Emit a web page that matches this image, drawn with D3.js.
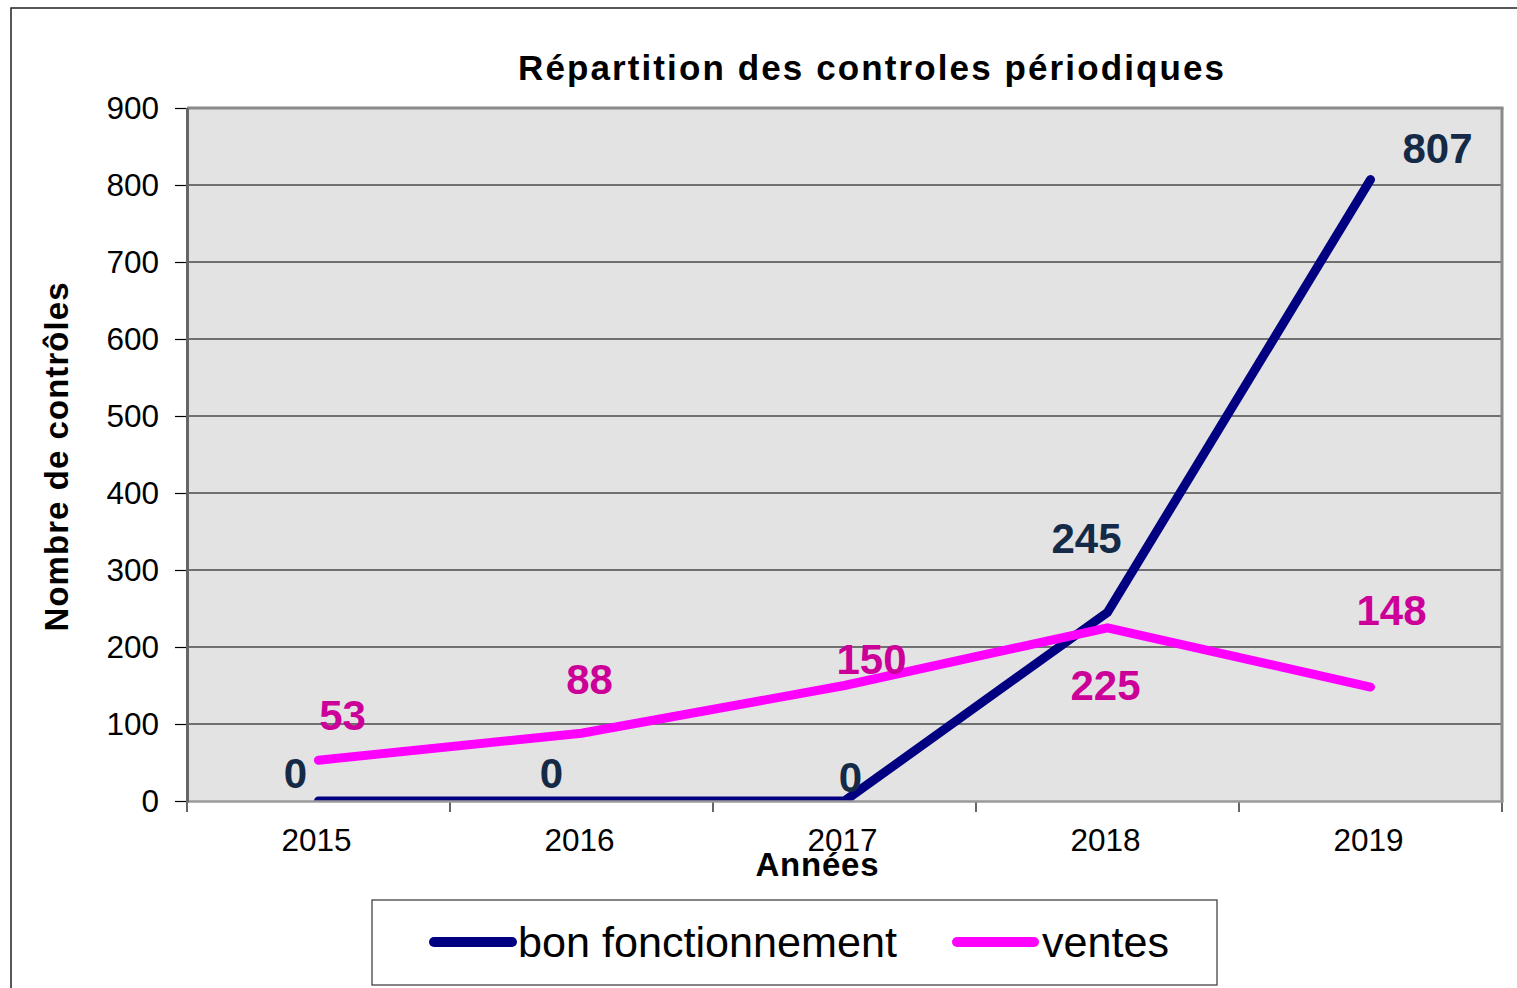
<!DOCTYPE html>
<html>
<head>
<meta charset="utf-8">
<script src="https://cdn.jsdelivr.net/npm/d3@7"></script>
<style>
  html, body { margin: 0; padding: 0; background: #fff; }
  svg { display: block; font-family: "Liberation Sans", Arial, sans-serif; }
</style>
</head>
<body>
<svg id="chart" width="1517" height="988"></svg>
<script>
// Chart data
const years = ["2015", "2016", "2017", "2018", "2019"];
const bonFonctionnement = [0, 0, 0, 245, 807];
const ventes = [53, 88, 150, 225, 148];
const yTicks = [0, 100, 200, 300, 400, 500, 600, 700, 800, 900];
const seriesNames = ["bon fonctionnement", "ventes"];

// Value-label placement relative to each point (dx, dy of baseline)
const labelOffsetsBon = [[-23, -13], [-30, -13], [6, -9], [-21, -59], [67, -17]];
const labelOffsetsVentes = [[24, -30], [8, -39], [27, -12], [-2, 72], [21, -62]];

const W = 1517, H = 988;
const plot = { left: 187, right: 1502, top: 108, bottom: 801 };

const svg = d3.select("#chart");

// Outer frame (extends past the right and bottom edges)
svg.append("rect")
  .attr("x", 11).attr("y", 8)
  .attr("width", W).attr("height", H)
  .attr("fill", "#fff").attr("stroke", "#222").attr("stroke-width", 1.5);

const x = d3.scaleBand().domain(years).range([plot.left, plot.right]).padding(0);
const y = d3.scaleLinear().domain([0, 900]).range([plot.bottom, plot.top]);
const cx = d => x(d) + x.bandwidth() / 2;

// Plot background
svg.append("rect")
  .attr("x", plot.left).attr("y", plot.top)
  .attr("width", plot.right - plot.left).attr("height", plot.bottom - plot.top)
  .attr("fill", "#e3e3e3");

// Horizontal gridlines
svg.append("g")
  .selectAll("line")
  .data(yTicks.filter(t => t > 0 && t < 900))
  .join("line")
  .attr("x1", plot.left).attr("x2", plot.right)
  .attr("y1", d => y(d)).attr("y2", d => y(d))
  .attr("stroke", "#4a4a4a").attr("stroke-width", 1.3);

// Y axis
const yAxis = d3.axisLeft(y).tickValues(yTicks).tickSize(12).tickPadding(16).tickFormat(d3.format("d"));
const gy = svg.append("g").attr("transform", `translate(${plot.left},0)`).call(yAxis);
gy.select(".domain").remove();
gy.selectAll(".tick line").attr("stroke", "#000").attr("stroke-width", 1.2);
gy.selectAll(".tick text")
  .attr("font-size", 31.5).attr("fill", "#000")
  .attr("font-family", "Liberation Sans, Arial, sans-serif");

// X axis: ticks at category boundaries, labels at category centres
const boundaries = years.map(d => x(d)).concat([plot.right]);
svg.append("g")
  .selectAll("line")
  .data(boundaries)
  .join("line")
  .attr("x1", d => d).attr("x2", d => d)
  .attr("y1", plot.bottom).attr("y2", plot.bottom + 11)
  .attr("stroke", "#000").attr("stroke-width", 1.2);

svg.append("g")
  .selectAll("text")
  .data(years)
  .join("text")
  .attr("x", d => cx(d) - 2)
  .attr("y", 851)
  .attr("text-anchor", "middle")
  .attr("font-size", 31.5)
  .attr("fill", "#000")
  .text(d => d);

// Clip lines to the plot area
svg.append("defs").append("clipPath").attr("id", "plotClip")
  .append("rect")
  .attr("x", plot.left).attr("y", plot.top - 20)
  .attr("width", plot.right - plot.left).attr("height", plot.bottom - plot.top + 20.5);

const line = d3.line()
  .x((d, i) => cx(years[i]))
  .y(d => y(d));

const gLines = svg.append("g").attr("clip-path", "url(#plotClip)");
gLines.append("path")
  .datum(bonFonctionnement)
  .attr("d", line)
  .attr("fill", "none")
  .attr("stroke", "#000080")
  .attr("stroke-width", 9)
  .attr("stroke-linecap", "round");
gLines.append("path")
  .datum(ventes)
  .attr("d", line)
  .attr("fill", "none")
  .attr("stroke", "#ff00ff")
  .attr("stroke-width", 9)
  .attr("stroke-linecap", "round");

// Plot border
svg.append("line").attr("x1", plot.left).attr("x2", plot.right + 1.5)
  .attr("y1", plot.top).attr("y2", plot.top).attr("stroke", "#8a8a8a").attr("stroke-width", 3);
svg.append("line").attr("x1", plot.right).attr("x2", plot.right)
  .attr("y1", plot.top).attr("y2", plot.bottom + 1).attr("stroke", "#8a8a8a").attr("stroke-width", 3);
svg.append("line").attr("x1", plot.left).attr("x2", plot.right + 1.5)
  .attr("y1", plot.bottom + 0.5).attr("y2", plot.bottom + 0.5).attr("stroke", "#9a9a9a").attr("stroke-width", 2.5);
svg.append("line").attr("x1", plot.left + 0.5).attr("x2", plot.left + 0.5)
  .attr("y1", plot.top).attr("y2", plot.bottom + 1.5).attr("stroke", "#666").attr("stroke-width", 3);

// Value labels
function addLabels(values, offsets, color) {
  svg.append("g")
    .selectAll("text")
    .data(values)
    .join("text")
    .attr("x", (d, i) => cx(years[i]) + offsets[i][0])
    .attr("y", (d, i) => y(d) + offsets[i][1])
    .attr("text-anchor", "middle")
    .attr("font-size", 42)
    .attr("font-weight", "bold")
    .attr("fill", color)
    .text(d => d);
}
addLabels(bonFonctionnement, labelOffsetsBon, "#142a47");
addLabels(ventes, labelOffsetsVentes, "#cc0099");

// Title
svg.append("text")
  .attr("x", 871).attr("y", 80)
  .attr("text-anchor", "middle")
  .attr("font-size", 35).attr("font-weight", "bold")
  .attr("textLength", 706).attr("lengthAdjust", "spacing")
  .text("Répartition des controles périodiques");

// Axis titles
svg.append("text")
  .attr("transform", "translate(68,457) rotate(-90)")
  .attr("text-anchor", "middle")
  .attr("font-size", 33).attr("font-weight", "bold")
  .attr("textLength", 349).attr("lengthAdjust", "spacing")
  .text("Nombre de contrôles");

svg.append("text")
  .attr("x", 817).attr("y", 876)
  .attr("text-anchor", "middle")
  .attr("font-size", 33).attr("font-weight", "bold")
  .attr("textLength", 123).attr("lengthAdjust", "spacing")
  .text("Années");

// Legend
const legend = svg.append("g");
legend.append("rect")
  .attr("x", 372).attr("y", 900).attr("width", 845).attr("height", 85)
  .attr("fill", "#fff").attr("stroke", "#444").attr("stroke-width", 1.3);

const legendItems = [
  { name: seriesNames[0], color: "#000080", x0: 434, x1: 512, tx: 518, tl: 379 },
  { name: seriesNames[1], color: "#ff00ff", x0: 957, x1: 1034, tx: 1042, tl: 127 }
];
legendItems.forEach(it => {
  legend.append("line")
    .attr("x1", it.x0).attr("x2", it.x1).attr("y1", 942).attr("y2", 942)
    .attr("stroke", it.color).attr("stroke-width", 10).attr("stroke-linecap", "round");
  legend.append("text")
    .attr("x", it.tx).attr("y", 957)
    .attr("font-size", 42)
    .attr("textLength", it.tl).attr("lengthAdjust", "spacingAndGlyphs")
    .text(it.name);
});
</script>
</body>
</html>
